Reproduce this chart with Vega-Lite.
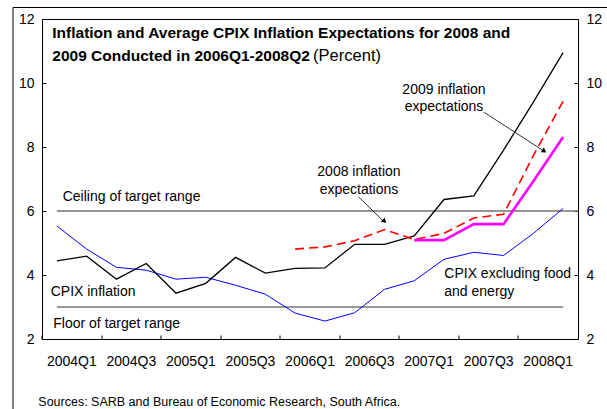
{
  "$schema": "https://vega.github.io/schema/vega-lite/v6.json",
  "width": 594.5,
  "height": 402,
  "autosize": {"type": "none"},
  "padding": {"left": 12.5, "top": 7, "right": 0, "bottom": 0},
  "background": "white",
  "config": {
    "view": {"stroke": "black", "strokeWidth": 1},
    "font": "Liberation Sans",
    "text": {"font": "Liberation Sans", "fontSize": 14, "color": "black"},
    "axis": {
      "labelFont": "Liberation Sans",
      "labelFontSize": 14,
      "labelColor": "black",
      "domainColor": "black",
      "tickColor": "black",
      "grid": false,
      "tickSize": -4
    }
  },
  "data": {
    "values": [
      {"quarter": "2004Q1", "cpix": 4.44, "core": 5.53, "ceiling": 6, "floor": 3},
      {"quarter": "2004Q2", "cpix": 4.59, "core": 4.81, "ceiling": 6, "floor": 3},
      {"quarter": "2004Q3", "cpix": 3.87, "core": 4.24, "ceiling": 6, "floor": 3},
      {"quarter": "2004Q4", "cpix": 4.36, "core": 4.15, "ceiling": 6, "floor": 3},
      {"quarter": "2005Q1", "cpix": 3.43, "core": 3.87, "ceiling": 6, "floor": 3},
      {"quarter": "2005Q2", "cpix": 3.74, "core": 3.93, "ceiling": 6, "floor": 3},
      {"quarter": "2005Q3", "cpix": 4.55, "core": 3.68, "ceiling": 6, "floor": 3},
      {"quarter": "2005Q4", "cpix": 4.06, "core": 3.40, "ceiling": 6, "floor": 3},
      {"quarter": "2006Q1", "cpix": 4.21, "core": 2.81, "exp2008": 4.81, "ceiling": 6, "floor": 3},
      {"quarter": "2006Q2", "cpix": 4.22, "core": 2.56, "exp2008": 4.88, "ceiling": 6, "floor": 3},
      {"quarter": "2006Q3", "cpix": 4.96, "core": 2.82, "exp2008": 5.07, "ceiling": 6, "floor": 3},
      {"quarter": "2006Q4", "cpix": 4.96, "core": 3.55, "exp2008": 5.42, "ceiling": 6, "floor": 3},
      {"quarter": "2007Q1", "cpix": 5.22, "core": 3.82, "exp2008": 5.11, "exp2009": 5.09, "ceiling": 6, "floor": 3},
      {"quarter": "2007Q2", "cpix": 6.36, "core": 4.49, "exp2008": 5.30, "exp2009": 5.09, "ceiling": 6, "floor": 3},
      {"quarter": "2007Q3", "cpix": 6.47, "core": 4.71, "exp2008": 5.78, "exp2009": 5.59, "ceiling": 6, "floor": 3},
      {"quarter": "2007Q4", "cpix": 7.90, "core": 4.61, "exp2008": 5.90, "exp2009": 5.59, "ceiling": 6, "floor": 3},
      {"quarter": "2008Q1", "cpix": 9.40, "core": 5.30, "exp2008": 7.73, "exp2009": 6.93, "ceiling": 6, "floor": 3},
      {"quarter": "2008Q2", "cpix": 10.95, "core": 6.08, "exp2008": 9.43, "exp2009": 8.31, "ceiling": 6, "floor": 3}
    ]
  },
  "layer": [
    {
      "mark": {"type": "line", "color": "#707070", "strokeWidth": 1.5},
      "encoding": {
        "x": {
          "field": "quarter", "type": "ordinal", "title": null, "bandPosition": 0.5,
          "scale": {"type": "band", "paddingInner": 0, "paddingOuter": 0, "range": [29.5, 565.5],
            "domain": ["2004Q1","2004Q2","2004Q3","2004Q4","2005Q1","2005Q2","2005Q3","2005Q4","2006Q1","2006Q2","2006Q3","2006Q4","2007Q1","2007Q2","2007Q3","2007Q4","2008Q1","2008Q2"]},
          "axis": {
            "orient": "bottom", "offset": -70,
            "values": ["2004Q1","2004Q3","2005Q1","2005Q3","2006Q1","2006Q3","2007Q1","2007Q3","2008Q1"],
            "bandPosition": 0, "labelOffset": 14.9, "labelPadding": 19, "labelAngle": 0,
            "tickSize": -4, "domain": true, "title": null
          }
        },
        "y": {
          "field": "ceiling", "type": "quantitative",
          "scale": {"domain": [2, 12], "nice": false, "zero": false, "range": [332, 12]},
          "axis": {"orient": "left", "offset": -29.5, "values": [2, 4, 6, 8, 10, 12], "labelPadding": 12, "tickSize": -4, "title": null, "domain": true}
        }
      }
    },
    {
      "data": {"values": [{"line": "Ceiling of target range"}]},
      "mark": {"type": "rule", "color": "#707070", "strokeWidth": 1.5},
      "encoding": {
        "x": {"datum": "2008Q2", "type": "ordinal", "bandPosition": 0.5, "title": null, "axis": null},
        "x2": {"datum": "2008Q2", "bandPosition": 1},
        "y": {"datum": 6, "type": "quantitative", "axis": null}
      }
    },
    {
      "mark": {"type": "line", "color": "#333333", "strokeWidth": 1.2},
      "encoding": {
        "x": {
          "field": "quarter", "type": "ordinal", "title": null, "bandPosition": 0.5,
          "axis": {"orient": "top", "offset": -12, "labels": false, "ticks": false, "domain": true, "title": null}
        },
        "y": {
          "field": "floor", "type": "quantitative",
          "scale": {"domain": [2, 12], "nice": false, "zero": false, "range": [332, 12]},
          "axis": {"orient": "right", "offset": -29, "values": [2, 4, 6, 8, 10, 12], "labelPadding": 12, "tickSize": -4, "title": null, "domain": true}
        }
      }
    },
    {
      "mark": {"type": "line", "color": "#0000FF", "strokeWidth": 1},
      "encoding": {
        "x": {"field": "quarter", "type": "ordinal", "title": null, "bandPosition": 0.5, "axis": null},
        "y": {"field": "core", "type": "quantitative", "scale": {"domain": [2, 12], "nice": false, "zero": false}, "axis": null}
      }
    },
    {
      "mark": {"type": "line", "color": "#000000", "strokeWidth": 1.3},
      "encoding": {
        "x": {"field": "quarter", "type": "ordinal", "title": null, "bandPosition": 0.5, "axis": null},
        "y": {"field": "cpix", "type": "quantitative", "scale": {"domain": [2, 12], "nice": false, "zero": false}, "axis": null}
      }
    },
    {
      "mark": {"type": "line", "color": "#FF0000", "strokeWidth": 1.6, "strokeDash": [9, 5]},
      "encoding": {
        "x": {"field": "quarter", "type": "ordinal", "title": null, "bandPosition": 0.5, "axis": null},
        "y": {"field": "exp2008", "type": "quantitative", "scale": {"domain": [2, 12], "nice": false, "zero": false}, "axis": null}
      }
    },
    {
      "mark": {"type": "line", "color": "#FF00FF", "strokeWidth": 2.6},
      "encoding": {
        "x": {"field": "quarter", "type": "ordinal", "title": null, "bandPosition": 0.5, "axis": null},
        "y": {"field": "exp2009", "type": "quantitative", "scale": {"domain": [2, 12], "nice": false, "zero": false}, "axis": null}
      }
    },
    {
      "data": {"values": [{"label": "Inflation and Average CPIX Inflation Expectations for 2008 and"}]},
      "mark": {"type": "text", "align": "left", "baseline": "alphabetic", "fontWeight": "bold", "fontSize": 15.5, "dx": -4.6},
      "encoding": {
        "x": {"datum": "2004Q1", "type": "ordinal", "bandPosition": 0.5, "title": null, "axis": null},
        "y": {"datum": 11.413, "type": "quantitative", "axis": null},
        "text": {"field": "label"}
      }
    },
    {
      "data": {"values": [{"label": "2009 Conducted in 2006Q1-2008Q2"}]},
      "mark": {"type": "text", "align": "left", "baseline": "alphabetic", "fontWeight": "bold", "fontSize": 15.5, "dx": -4.6},
      "encoding": {
        "x": {"datum": "2004Q1", "type": "ordinal", "bandPosition": 0.5, "title": null, "axis": null},
        "y": {"datum": 10.686, "type": "quantitative", "axis": null},
        "text": {"field": "label"}
      }
    },
    {
      "data": {"values": [{"label": "(Percent)"}]},
      "mark": {"type": "text", "align": "left", "baseline": "alphabetic", "fontSize": 16.5, "dx": 18},
      "encoding": {
        "x": {"datum": "2006Q1", "type": "ordinal", "bandPosition": 0.5, "title": null, "axis": null},
        "y": {"datum": 10.686, "type": "quantitative", "axis": null},
        "text": {"field": "label"}
      }
    },
    {
      "data": {"values": [{"label": "Ceiling of target range"}]},
      "mark": {"type": "text", "align": "left", "baseline": "alphabetic", "dx": 5.8},
      "encoding": {
        "x": {"datum": "2004Q1", "type": "ordinal", "bandPosition": 0.5, "title": null, "axis": null},
        "y": {"datum": 6.306, "type": "quantitative", "axis": null},
        "text": {"field": "label"}
      }
    },
    {
      "data": {"values": [{"label": "CPIX inflation"}]},
      "mark": {"type": "text", "align": "left", "baseline": "alphabetic", "dx": -6.2},
      "encoding": {
        "x": {"datum": "2004Q1", "type": "ordinal", "bandPosition": 0.5, "title": null, "axis": null},
        "y": {"datum": 3.342, "type": "quantitative", "axis": null},
        "text": {"field": "label"}
      }
    },
    {
      "data": {"values": [{"label": "Floor of target range"}]},
      "mark": {"type": "text", "align": "left", "baseline": "alphabetic", "dx": -3.6},
      "encoding": {
        "x": {"datum": "2004Q1", "type": "ordinal", "bandPosition": 0.5, "title": null, "axis": null},
        "y": {"datum": 2.334, "type": "quantitative", "axis": null},
        "text": {"field": "label"}
      }
    },
    {
      "data": {"values": [{"label": "2008 inflation\nexpectations"}]},
      "mark": {"type": "text", "align": "center", "baseline": "alphabetic", "dx": 4.3, "lineBreak": "\n", "lineHeight": 17.6},
      "encoding": {
        "x": {"datum": "2006Q3", "type": "ordinal", "bandPosition": 0.5, "title": null, "axis": null},
        "y": {"datum": 7.095, "type": "quantitative", "axis": null},
        "text": {"field": "label"}
      }
    },
    {
      "data": {"values": [{"label": "2009 inflation\nexpectations"}]},
      "mark": {"type": "text", "align": "center", "baseline": "alphabetic", "dx": 0, "lineBreak": "\n", "lineHeight": 16.7},
      "encoding": {
        "x": {"datum": "2007Q2", "type": "ordinal", "bandPosition": 0.5, "title": null, "axis": null},
        "y": {"datum": 9.644, "type": "quantitative", "axis": null},
        "text": {"field": "label"}
      }
    },
    {
      "data": {"values": [{"label": "CPIX excluding food\nand energy"}]},
      "mark": {"type": "text", "align": "left", "baseline": "alphabetic", "dx": 0.3, "lineBreak": "\n", "lineHeight": 18},
      "encoding": {
        "x": {"datum": "2007Q2", "type": "ordinal", "bandPosition": 0.5, "title": null, "axis": null},
        "y": {"datum": 3.913, "type": "quantitative", "axis": null},
        "text": {"field": "label"}
      }
    },
    {
      "data": {"values": [{"label": "Sources: SARB and Bureau of Economic Research, South Africa."}]},
      "mark": {"type": "text", "align": "left", "baseline": "alphabetic", "fontSize": 12.5, "dx": -18.6},
      "encoding": {
        "x": {"datum": "2004Q1", "type": "ordinal", "bandPosition": 0.5, "title": null, "axis": null},
        "y": {"datum": -0.097, "type": "quantitative", "axis": null},
        "text": {"field": "label"}
      }
    },
    {
      "data": {"values": [{"arrow": "2008 inflation expectations"}]},
      "mark": {"type": "rule", "color": "black", "strokeWidth": 0.8, "xOffset": 4, "x2Offset": -1},
      "encoding": {
        "x": {"datum": "2006Q3", "type": "ordinal", "bandPosition": 0.5, "title": null, "axis": null},
        "x2": {"datum": "2006Q4", "bandPosition": 0.5},
        "y": {"datum": 6.44, "type": "quantitative", "axis": null},
        "y2": {"datum": 5.682}
      }
    },
    {
      "data": {"values": [{"arrow": "2008 inflation expectations"}]},
      "mark": {"type": "point", "shape": "triangle-up", "angle": 135, "size": 30, "filled": true, "color": "black", "opacity": 1},
      "encoding": {
        "x": {"datum": "2006Q4", "type": "ordinal", "bandPosition": 0.5, "title": null, "axis": null},
        "y": {"datum": 5.68, "type": "quantitative", "axis": null}
      }
    },
    {
      "data": {"values": [{"arrow": "2009 inflation expectations"}]},
      "mark": {"type": "rule", "color": "black", "strokeWidth": 0.8, "xOffset": 10, "x2Offset": 11},
      "encoding": {
        "x": {"datum": "2007Q3", "type": "ordinal", "bandPosition": 0.5, "title": null, "axis": null},
        "x2": {"datum": "2008Q1", "bandPosition": 0.5},
        "y": {"datum": 9.09, "type": "quantitative", "axis": null},
        "y2": {"datum": 7.866}
      }
    },
    {
      "data": {"values": [{"arrow": "2009 inflation expectations"}]},
      "mark": {"type": "point", "shape": "triangle-up", "angle": 123, "size": 30, "filled": true, "color": "black", "opacity": 1, "xOffset": 11},
      "encoding": {
        "x": {"datum": "2008Q1", "type": "ordinal", "bandPosition": 0.5, "title": null, "axis": null},
        "y": {"datum": 7.87, "type": "quantitative", "axis": null}
      }
    }
  ],
  "resolve": {"axis": {"x": "independent", "y": "independent"}}
}
